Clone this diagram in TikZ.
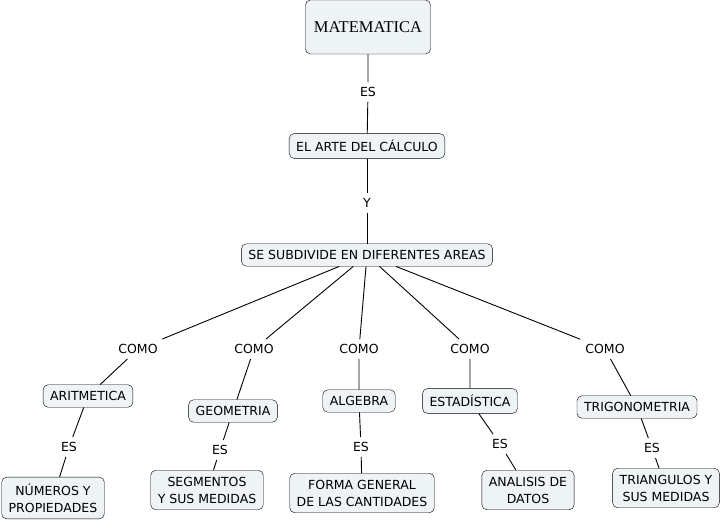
\documentclass[tikz,border=0pt]{standalone}
\usepackage{fontspec}
\setmainfont{DejaVu Sans}
\newfontfamily\titlefont{Liberation Serif}
\usepackage{tikz}
\usetikzlibrary{calc}
\definecolor{mapfill}{RGB}{238,243,246}
\newcommand{\clrline}{black}

\begin{document}
\begin{tikzpicture}[x=1pt, y=-1pt,
    concept/.style={draw, fill=mapfill, rounded corners=5pt, align=center,
        inner xsep=7pt, inner ysep=6.5pt, font=\fontsize{12.5}{17}\selectfont},
    linkword/.style={inner sep=5pt, font=\fontsize{12.5}{14}\selectfont},
    link/.style={\clrline, line width=0.9pt}]
    \useasboundingbox (0,0) rectangle (724,522);

    \node[concept, font=\titlefont\fontsize{16.5}{18}\selectfont, minimum width=125pt, minimum height=54pt] (mat) at (368,27) {MATEMATICA};
    \node[concept] (arte) at (367,146) {EL ARTE DEL CÁLCULO};
    \node[concept] (areas) at (367,255) {SE SUBDIVIDE EN DIFERENTES AREAS};

    \node[linkword] (es0) at (368,92) {ES};
    \node[linkword] (y0) at (367,203) {Y};
    \draw[link] (mat) -- (es0) -- (arte);
    \draw[link] (arte) -- (y0) -- (areas);

    \node[concept] (arit) at (88,396) {ARITMETICA};
    \node[concept] (geom) at (233,411) {GEOMETRIA};
    \node[concept] (alg) at (359,401) {ALGEBRA};
    \node[concept] (est) at (470,401) {ESTADÍSTICA};
    \node[concept] (trig) at (637,407) {TRIGONOMETRIA};

    \node[concept] (num) at (53,498) {NÚMEROS Y\\PROPIEDADES};
    \node[concept] (seg) at (207,490) {SEGMENTOS\\Y SUS MEDIDAS};
    \node[concept] (forma) at (362,493) {FORMA GENERAL\\DE LAS CANTIDADES};
    \node[concept] (datos) at (528,490) {ANALISIS DE\\DATOS};
    \node[concept] (tri) at (666,488) {TRIANGULOS Y\\SUS MEDIDAS};

    \foreach \x/\area [count=\i] in {138/arit, 254/geom, 359/alg, 470/est, 605/trig} {
        \node[linkword] (como\i) at (\x,349) {COMO};
        \draw[link] (areas) -- (como\i) -- (\area);
    }

    \foreach \x/\y/\area/\leaf [count=\i] in {69/447/arit/num, 220/450/geom/seg, 361/447/alg/forma, 500/444/est/datos, 652/448/trig/tri} {
        \node[linkword] (es\i) at (\x,\y) {ES};
        \draw[link] (\area) -- (es\i) -- (\leaf);
    }

\end{tikzpicture}
\end{document}
